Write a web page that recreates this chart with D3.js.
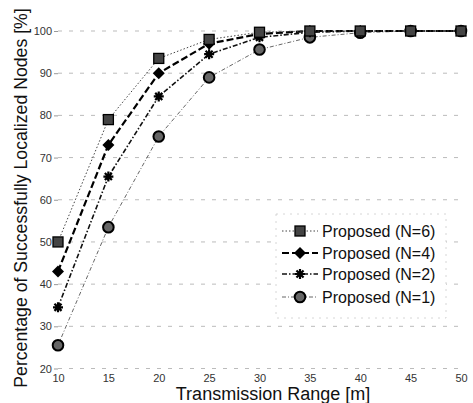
<!DOCTYPE html>
<html><head><meta charset="utf-8">
<script src="https://cdn.jsdelivr.net/npm/d3@7"></script>
<style>body{margin:0;background:#fff}svg{display:block}</style>
</head><body>
<svg id="c" width="473" height="403"></svg>
<script>
const ranges = [10, 15, 20, 25, 30, 35, 40, 45, 50];
const n6 = [50, 79, 93.5, 98, 99.7, 100, 100, 100, 100];
const n4 = [43, 73, 90, 97, 99.3, 100, 100, 100, 100];
const n2 = [34.5, 65.5, 84.5, 94.5, 98.5, 99.7, 100, 100, 100];
const n1 = [25.5, 53.5, 75, 89, 95.6, 98.5, 99.6, 100, 100];
const seriesNames = ["Proposed (N=6)", "Proposed (N=4)", "Proposed (N=2)", "Proposed (N=1)"];
const xTicks = [10, 15, 20, 25, 30, 35, 40, 45, 50];
const yTicks = [20, 30, 40, 50, 60, 70, 80, 90, 100];

const svg = d3.select("#c");
const x = d3.scaleLinear().domain([10, 50]).range([58, 461]);
const y = d3.scaleLinear().domain([20, 100]).range([368.5, 31]);
const font = "Liberation Sans, Arial, sans-serif";

// grid
svg.append("g").selectAll("line").data(yTicks).join("line")
  .attr("x1", x(10)).attr("x2", x(50))
  .attr("y1", d => y(d)).attr("y2", d => y(d))
  .attr("stroke", "#bbb").attr("stroke-width", 1).attr("stroke-dasharray", "4,7");

// y axis
const ya = d3.axisLeft(y).tickValues(yTicks).tickSize(4).tickPadding(2);
const gy = svg.append("g").attr("transform", `translate(${x(10)},0)`).call(ya);
gy.select(".domain").remove();
gy.selectAll("line").attr("stroke", "#999");
gy.selectAll("text").attr("font-family", font).attr("font-size", 11).attr("fill", "#333");

// x axis
const xa = d3.axisBottom(x).tickValues(xTicks).tickSize(0).tickPadding(6);
const gx = svg.append("g").attr("transform", `translate(0,${y(20)})`).call(xa);
gx.select(".domain").remove();
gx.selectAll("text").attr("font-family", font).attr("font-size", 11).attr("fill", "#333");

// labels
svg.append("text").attr("x", 273).attr("y", 400).attr("text-anchor", "middle")
  .attr("font-family", font).attr("font-size", 18).attr("fill", "#111")
  .text("Transmission Range [m]");
svg.append("text").attr("transform", "translate(27,198) rotate(-90)").attr("text-anchor", "middle")
  .attr("font-family", font).attr("font-size", 17.7).attr("fill", "#111")
  .text("Percentage of Successfully Localized Nodes [%]");

const styles = [
  {vals: n6, dash: "1.5,2", w: 1, color: "#444", marker: "square"},
  {vals: n4, dash: "7,3", w: 2.2, color: "#000", marker: "diamond"},
  {vals: n2, dash: "5,2,1.5,2", w: 1.6, color: "#111", marker: "star"},
  {vals: n1, dash: "4,2,1,2", w: 0.9, color: "#555", marker: "circle"}
];

const line = d3.line().x((d, i) => x(ranges[i])).y(d => y(d)).curve(d3.curveLinear);

function drawMarker(g, type, cx, cy) {
  if (type === "square") {
    const s = 10;
    g.append("rect").attr("x", cx - s/2).attr("y", cy - s/2).attr("width", s).attr("height", s)
      .attr("fill", "#444").attr("stroke", "#000").attr("stroke-width", 1.3);
  } else if (type === "diamond") {
    const s = 6;
    g.append("path").attr("d", `M${cx},${cy-s}L${cx+s},${cy}L${cx},${cy+s}L${cx-s},${cy}Z`)
      .attr("fill", "#000");
  } else if (type === "star") {
    const r = 5;
    let d = "";
    for (let k = 0; k < 4; k++) {
      const a = k * Math.PI / 4;
      d += `M${cx - r*Math.cos(a)},${cy - r*Math.sin(a)}L${cx + r*Math.cos(a)},${cy + r*Math.sin(a)}`;
    }
    g.append("path").attr("d", d).attr("stroke", "#000").attr("stroke-width", 2.2);
  } else {
    g.append("circle").attr("cx", cx).attr("cy", cy).attr("r", 5.3)
      .attr("fill", "#666").attr("stroke", "#000").attr("stroke-width", 2);
  }
}

const order = [3, 2, 1, 0];
order.forEach(si => {
  const s = styles[si];
  svg.append("path").datum(s.vals).attr("d", line).attr("fill", "none")
    .attr("stroke", s.color).attr("stroke-width", s.w).attr("stroke-dasharray", s.dash);
});
order.forEach(si => {
  const s = styles[si];
  const g = svg.append("g");
  s.vals.forEach((v, i) => drawMarker(g, s.marker, x(ranges[i]), y(v)));
});

// legend
const legendY = [231, 253, 274, 297];
const lg = svg.append("g");
lg.append("rect").attr("x", 276).attr("y", 214).attr("width", 170).attr("height", 104)
  .attr("fill", "#fff").attr("stroke", "#ccc").attr("stroke-width", 0.8).attr("stroke-dasharray", "2,5");
seriesNames.forEach((name, i) => {
  const s = styles[i];
  const yy = legendY[i];
  lg.append("line").attr("x1", 282).attr("x2", 318).attr("y1", yy).attr("y2", yy)
    .attr("stroke", s.color).attr("stroke-width", s.w).attr("stroke-dasharray", s.dash);
  drawMarker(lg, s.marker, 300, yy);
  lg.append("text").attr("x", 322).attr("y", yy + 6).attr("font-family", font)
    .attr("font-size", 16).attr("fill", "#111").text(name);
});
</script>
</body></html>
